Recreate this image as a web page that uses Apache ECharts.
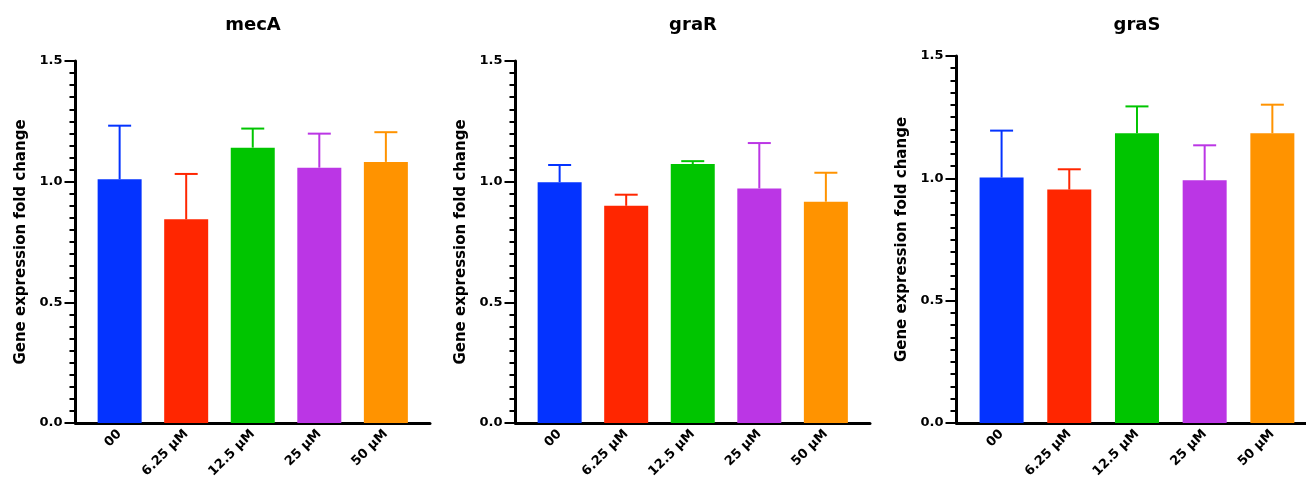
<!DOCTYPE html>
<html>
<head>
<meta charset="utf-8">
<script src="https://cdn.jsdelivr.net/npm/echarts@6/dist/echarts.min.js"></script>
<style>
html,body{margin:0;padding:0;background:#fff;}
#c{width:1306px;height:482px;}
</style>
</head>
<body>
<div id="c"></div>
<script>
// ---- data ----
const categories = ['00', '6.25 µM', '12.5 µM', '25 µM', '50 µM'];
const genes = ['mecA', 'graR', 'graS'];
const mecA_mean = [1.010, 0.844, 1.141, 1.058, 1.082];
const mecA_sd   = [0.222, 0.188, 0.079, 0.141, 0.123];
const graR_mean = [0.998, 0.900, 1.073, 0.972, 0.917];
const graR_sd   = [0.071, 0.046, 0.012, 0.188, 0.120];
const graS_mean = [1.003, 0.954, 1.184, 0.992, 1.184];
const graS_sd   = [0.192, 0.083, 0.110, 0.143, 0.117];
const yTicks = [0, 0.5, 1.0, 1.5];
const colors = ['#0433ff', '#ff2600', '#00c500', '#bb36e5', '#ff9300'];

const means = [mecA_mean, graR_mean, graS_mean];
const sds = [mecA_sd, graR_sd, graS_sd];

// ---- layout ----
const FONT = 'DejaVu Sans';
const panels = [
  {left: 75.5, top: 61, width: 354.5, xmin: -0.663, xmax: 4.663, titleX: 253},
  {left: 515.5, top: 61, width: 354.5, xmin: -0.663, xmax: 4.663, titleX: 693},
  {left: 956.5, top: 56, width: 349.5, xmin: -0.666, xmax: 4.497, titleX: 1137}
];

const grid = [], xAxis = [], yAxis = [], series = [], title = [];
panels.forEach((p, k) => {
  grid.push({left: p.left, top: p.top, width: p.width, bottom: 59, containLabel: false});
  title.push({
    text: genes[k], left: p.titleX, top: 16, textAlign: 'center', padding: 0,
    textStyle: {fontFamily: FONT, fontWeight: 'bold', fontSize: 18, color: '#000'}
  });
  xAxis.push({
    gridIndex: k, type: 'value', min: p.xmin, max: p.xmax,
    splitLine: {show: false},
    axisLine: {show: true, onZero: false, lineStyle: {color: '#000', width: 3}},
    axisTick: {show: false},
    axisLabel: {
      customValues: categories.map((c, i) => i),
      formatter: v => categories[Math.round(v)] || '',
      rotate: 45, margin: 9, color: '#000',
      fontFamily: FONT, fontWeight: 'bold', fontSize: 13
    }
  });
  yAxis.push({
    gridIndex: k, type: 'value', min: 0, max: 1.5, interval: 0.5,
    name: 'Gene expression fold change', nameLocation: 'middle', nameGap: 47,
    nameTextStyle: {fontFamily: FONT, fontWeight: 'bold', fontSize: 15, color: '#000'},
    splitLine: {show: false},
    axisLine: {show: true, onZero: false, lineStyle: {color: '#000', width: 3}},
    axisTick: {show: true, length: 11, lineStyle: {color: '#000', width: 2}},
    minorTick: {show: true, splitNumber: 10, length: 6, lineStyle: {color: '#000', width: 2}},
    axisLabel: {
      margin: 13, color: '#000', fontFamily: FONT, fontWeight: 'bold', fontSize: 13,
      formatter: v => v.toFixed(1)
    }
  });
  series.push({
    type: 'bar', xAxisIndex: k, yAxisIndex: k, barWidth: 44,
    data: means[k].map((m, i) => ({value: [i, m], itemStyle: {color: colors[i]}})),
    z: 2
  });
  series.push({
    type: 'custom', xAxisIndex: k, yAxisIndex: k, z: 3,
    data: means[k].map((m, i) => [i, m, m + sds[k][i]]),
    renderItem: function (params, api) {
      const i = api.value(0);
      const base = api.coord([i, api.value(1)]);
      const top = api.coord([i, api.value(2)]);
      const half = 11.5;
      const st = {stroke: colors[Math.round(i)], lineWidth: 2};
      return {
        type: 'group',
        children: [
          {type: 'line', shape: {x1: base[0], y1: base[1], x2: top[0], y2: top[1]}, style: st},
          {type: 'line', shape: {x1: top[0] - half, y1: top[1], x2: top[0] + half, y2: top[1]}, style: st}
        ]
      };
    }
  });
});

const chart = echarts.init(document.getElementById('c'), null, {renderer: 'canvas'});
chart.setOption({
  backgroundColor: '#fff',
  animation: false,
  title, grid, xAxis, yAxis, series
});
</script>
</body>
</html>
